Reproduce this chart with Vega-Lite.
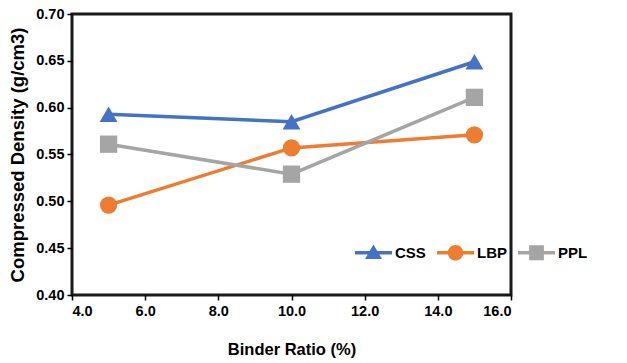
{
  "$schema": "https://vega.github.io/schema/vega-lite/v6.json",
  "width": 439,
  "height": 281,
  "autosize": "none",
  "padding": {"left": 72, "top": 14, "right": 116, "bottom": 68},
  "background": "white",
  "config": {
    "font": "Liberation Sans",
    "view": {"stroke": "#1a1a1a", "strokeWidth": 3},
    "axis": {
      "grid": false,
      "domain": false,
      "ticks": true,
      "tickColor": "#000",
      "tickSize": 5,
      "tickWidth": 1.5,
      "labelFont": "Liberation Sans",
      "labelFontWeight": "bold",
      "labelFontSize": 14.5,
      "labelColor": "#000",
      "titleFont": "Liberation Sans",
      "titleFontWeight": "bold",
      "titleFontSize": 16,
      "titleColor": "#000"
    },
    "legend": {
      "orient": "none",
      "legendX": 283,
      "legendY": 220,
      "direction": "horizontal",
      "symbolSize": 1369,
      "symbolStrokeWidth": 0,
      "symbolOpacity": 1,
      "labelFont": "Liberation Sans",
      "labelFontWeight": "bold",
      "labelFontSize": 15,
      "labelColor": "#000",
      "labelOffset": 3,
      "columnPadding": 11
    }
  },
  "data": {
    "values": [
      {"ratio": 5, "density": 0.593, "series": "CSS"},
      {"ratio": 10, "density": 0.585, "series": "CSS"},
      {"ratio": 15, "density": 0.649, "series": "CSS"},
      {"ratio": 5, "density": 0.496, "series": "LBP"},
      {"ratio": 10, "density": 0.557, "series": "LBP"},
      {"ratio": 15, "density": 0.571, "series": "LBP"},
      {"ratio": 5, "density": 0.561, "series": "PPL"},
      {"ratio": 10, "density": 0.529, "series": "PPL"},
      {"ratio": 15, "density": 0.611, "series": "PPL"}
    ]
  },
  "encoding": {
    "x": {
      "field": "ratio",
      "type": "quantitative",
      "scale": {"domain": [4, 16], "nice": false},
      "axis": {"values": [4, 6, 8, 10, 12, 14, 16], "format": ".1f", "title": "Binder Ratio (%)", "labelPadding": 4, "titlePadding": 24, "titleFontSize": 16.5}
    },
    "y": {
      "field": "density",
      "type": "quantitative",
      "scale": {"domain": [0.4, 0.7], "nice": false, "zero": false},
      "axis": {"values": [0.4, 0.45, 0.5, 0.55, 0.6, 0.65, 0.7], "format": ".2f", "title": "Compressed Density (g/cm3)", "labelPadding": 3, "titlePadding": 8, "titleFontSize": 18.5}
    },
    "color": {
      "field": "series",
      "type": "nominal",
      "title": null,
      "scale": {"domain": ["CSS", "LBP", "PPL"], "range": ["#4472C4", "#ED7D31", "#A5A5A5"]}
    }
  },
  "layer": [
    {
      "mark": {"type": "line", "strokeWidth": 3.5}
    },
    {
      "transform": [{"filter": {"field": "series", "equal": "CSS"}}],
      "mark": {"type": "point", "shape": "triangle-up", "filled": true, "size": 320, "opacity": 1}
    },
    {
      "transform": [{"filter": {"field": "series", "equal": "LBP"}}],
      "mark": {"type": "point", "shape": "circle", "filled": true, "size": 300, "opacity": 1}
    },
    {
      "transform": [{"filter": {"field": "series", "equal": "PPL"}}],
      "mark": {"type": "point", "shape": "square", "filled": true, "size": 300, "opacity": 1}
    },
    {
      "mark": {"type": "point", "filled": true, "size": 0, "opacity": 1},
      "encoding": {
        "shape": {
          "field": "series",
          "type": "nominal",
          "title": null,
          "scale": {
            "domain": ["CSS", "LBP", "PPL"],
            "range": [
              "M-1,-0.1H1V0.1H-1Z M0,-0.44L0.46,0.34H-0.46Z",
              "M-1,-0.1H1V0.1H-1Z M-0.42,0A0.42,0.42,0,1,1,0.42,0A0.42,0.42,0,1,1,-0.42,0Z",
              "M-1,-0.1H1V0.1H-1Z M-0.4,-0.4H0.4V0.4H-0.4Z"
            ]
          }
        }
      }
    }
  ]
}
